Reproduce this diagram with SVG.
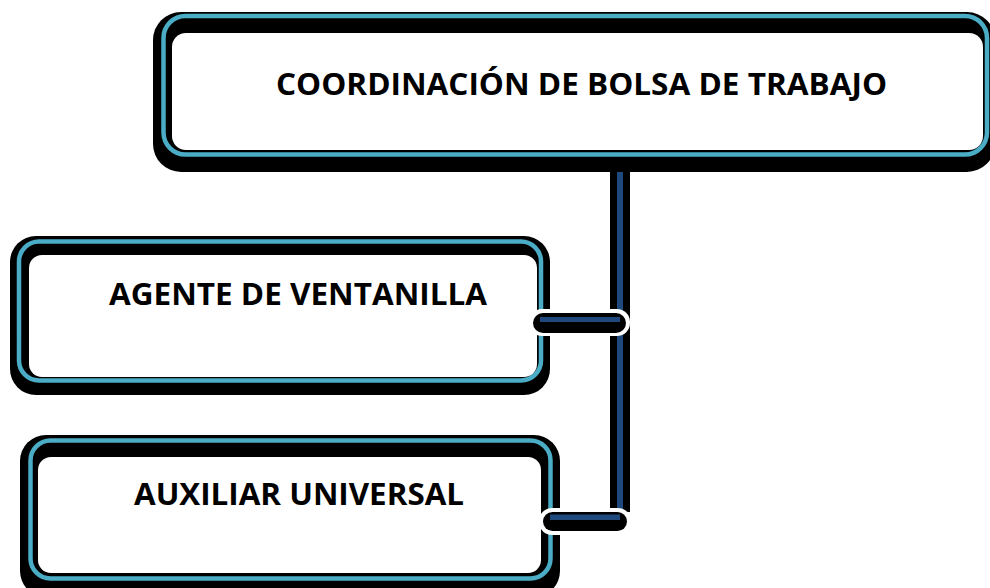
<svg xmlns="http://www.w3.org/2000/svg" width="990" height="588" viewBox="0 0 990 588">
<style>
.shadow{fill:#000000}
.ring{fill:none;stroke:#4bacc6;stroke-width:4.5}
.face{fill:#ffffff}
.lbl{font-family:"Open Sans","Liberation Sans",Arial,sans-serif;font-weight:bold;fill:#000000;font-size:31px}
.vline{fill:#000000}
.vcore{fill:#1f497d}
.gap{fill:#ffffff}
</style>
<rect width="990" height="588" fill="#ffffff"/>
<g id="node-coordinacion">
<rect class="shadow" x="153" y="12" width="842" height="160" rx="28"/>
<rect class="ring" x="163.5" y="16" width="823.5" height="138.5" rx="22"/>
<rect class="face" x="172" y="33" width="811" height="117" rx="14"/>
<text class="lbl" x="276" y="95" textLength="611" lengthAdjust="spacingAndGlyphs">COORDINACIÓN DE BOLSA DE TRABAJO</text>
</g>
<g id="node-agente">
<rect class="shadow" x="10" y="236" width="540" height="159" rx="26"/>
<rect class="ring" x="19" y="241.5" width="522" height="139" rx="20"/>
<rect class="face" x="29" y="255" width="508" height="122" rx="13"/>
<text class="lbl" x="109" y="305" textLength="378" lengthAdjust="spacingAndGlyphs">AGENTE DE VENTANILLA</text>
</g>
<g id="node-auxiliar">
<rect class="shadow" x="20" y="435" width="540" height="162" rx="26"/>
<rect class="ring" x="30.5" y="440.5" width="520" height="138" rx="20"/>
<rect class="face" x="38" y="457" width="503" height="116" rx="13"/>
<text class="lbl" x="134" y="505" textLength="330" lengthAdjust="spacingAndGlyphs">AUXILIAR UNIVERSAL</text>
</g>
<g id="connectors">
<rect class="vline" x="610" y="172" width="20" height="340"/>
<rect class="vcore" x="617" y="172" width="6" height="340"/>
<rect class="gap" x="529" y="309" width="101" height="27" rx="13"/>
<rect class="vline" x="533" y="313" width="93" height="20" rx="10"/>
<rect class="vcore" x="540" y="317" width="80" height="5"/>
<rect class="gap" x="539" y="508" width="92" height="27" rx="13"/>
<rect class="vline" x="543" y="512" width="84" height="19" rx="9.5"/>
<rect class="vcore" x="550" y="514.5" width="70" height="5.5"/>
</g>
</svg>
